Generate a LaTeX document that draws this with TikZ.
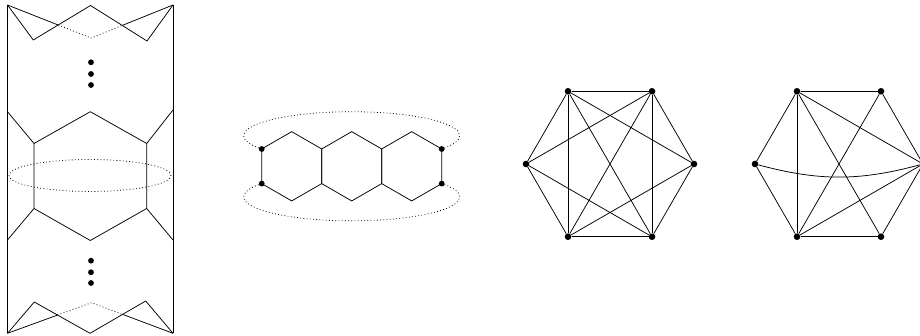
\documentclass[tikz,border=0pt]{standalone}
\usepackage{tikz}
\usetikzlibrary{calc}

\tikzset{
  edge/.style={line width=0.75pt},
  hidden/.style={line width=0.8pt, dash pattern=on 0.8pt off 2.4pt},
  vertex/.style={circle, fill, inner sep=0pt, minimum size=6.6pt},
  bigdot/.style={circle, fill, inner sep=0pt, minimum size=5.8pt}
}

\begin{document}
\begin{tikzpicture}[x=1pt,y=1pt]
    \useasboundingbox (0,0) rectangle (920,336);

    % Tube on the left
    \coordinate (tl) at (7.5,331);
    \coordinate (tr) at (173,331);
    \coordinate (dl) at (7.5,2.7);
    \coordinate (dr) at (173,2.7);
    \coordinate (tb) at (91,298);
    \coordinate (db) at (91.5,33.3);
    \draw[edge] (tl) -- (dl) (tr) -- (dr);

    % Top end
    \draw[edge] (tl) -- (33.3,296) -- (90.5,330.5) -- (147,295) -- (tr);
    \draw[edge] (tl) -- ($(tl)!0.606!(tb)$) (tr) -- ($(tr)!0.619!(tb)$);
    \draw[hidden] ($(tl)!0.606!(tb)$) -- (tb) -- ($(tr)!0.619!(tb)$);

    % Bottom end
    \draw[edge] (dl) -- (34.3,34) -- (90,2.7) -- (145.7,35) -- (dr);
    \draw[edge] (dl) -- ($(dl)!0.596!(db)$) (dr) -- ($(dr)!0.618!(db)$);
    \draw[hidden] ($(dl)!0.596!(db)$) -- (db) -- ($(dr)!0.618!(db)$);

    % Middle hexagon
    \draw[edge] (90.3,224.3) -- (146.7,192.5) -- (146.7,127.5) -- (90.3,95.5)
        -- (34,127.5) -- (34,192.5) -- cycle;
    \draw[edge] (34,192.5) -- (7.5,224.3) (146.7,192.5) -- (173,226);
    \draw[edge] (34,127.5) -- (7.5,96) (146.7,127.5) -- (173,96);
    \draw[hidden] (90,160.5) ellipse [x radius=81, y radius=16];

    % Vertical dots
    \foreach \y in {273.7,262,251,75.3,63.7,53}
        \fill (91,\y) circle (2.9);

    % Three hexagons in a row
    \foreach \cx in {291.7,351.7,411.7}
        \draw[edge] (\cx,169.7) ++(30:34.64) -- ++(150:34.64) -- ++(210:34.64)
            -- ++(270:34.64) -- ++(330:34.64) -- ++(30:34.64) -- cycle;
    \node[bigdot] (hul) at (261.7,187) {};
    \node[bigdot] (hdl) at (261.7,152.4) {};
    \node[bigdot] (hur) at (441.7,187) {};
    \node[bigdot] (hdr) at (441.7,152.4) {};
    \draw[hidden] (hul.center) arc[start angle=213.56, end angle=-33.56, x radius=108, y radius=24];
    \draw[hidden] (hdl.center) arc[start angle=146.44, end angle=393.56, x radius=108, y radius=24];

    % First graph
    \begin{scope}[shift={(610,172)}]
        \foreach \n/\a in {tl/120, tr/60, r/0, br/-60, bl/-120, l/180}
            \node[vertex] (k-\n) at (\a:84) {};
    \end{scope}
    \foreach \u/\v in {tl/tr, tl/l, tl/bl, tl/r, tl/br, tr/l, tr/bl, tr/br, tr/r,
                       l/bl, l/br, r/bl, r/br, bl/br}
        \draw[edge] (k-\u) -- (k-\v);

    % Second graph
    \begin{scope}[shift={(839,172)}]
        \foreach \n/\a in {tl/120, tr/60, r/0, br/-60, bl/-120, l/180}
            \node[vertex] (g-\n) at (\a:84) {};
    \end{scope}
    \foreach \u/\v in {tl/tr, tl/l, tl/bl, tl/r, tl/br, tr/bl, tr/r,
                       l/bl, bl/br, bl/r, br/r}
        \draw[edge] (g-\u) -- (g-\v);
    \draw[edge] (g-l) to[bend right=15] (g-r);
\end{tikzpicture}
\end{document}
